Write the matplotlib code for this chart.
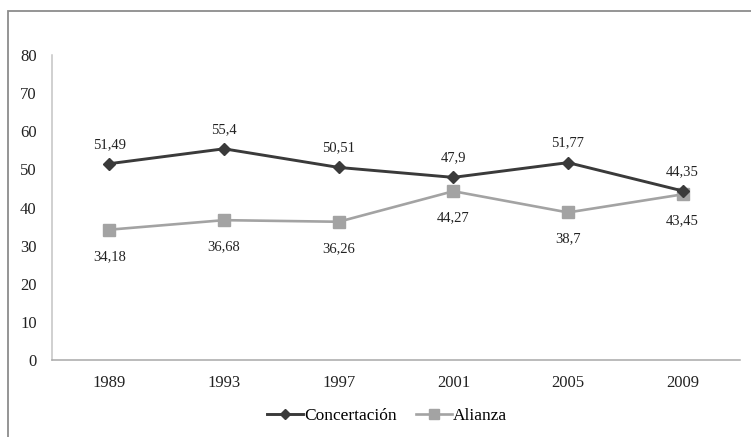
import matplotlib
matplotlib.use("Agg")
import matplotlib.pyplot as plt
from matplotlib.patches import Rectangle
from matplotlib.lines import Line2D

years = ["1989", "1993", "1997", "2001", "2005", "2009"]
concertacion = [51.49, 55.4, 50.51, 47.9, 51.77, 44.35]
alianza = [34.18, 36.68, 36.26, 44.27, 38.7, 43.45]
conc_labels = ["51,49", "55,4", "50,51", "47,9", "51,77", "44,35"]
ali_labels = ["34,18", "36,68", "36,26", "44,27", "38,7", "43,45"]
yticks = [0, 10, 20, 30, 40, 50, 60, 70, 80]

plt.rcParams['font.family'] = ['Liberation Serif', 'DejaVu Serif']

W, H = 751, 437
fig = plt.figure(figsize=(W/100, H/100), dpi=100)
fig.patch.set_facecolor('white')

# outer border
fig.add_artist(Rectangle((8/W, -0.02), 1.0, 1 - 11/H + 0.02, transform=fig.transFigure,
                         fill=False, edgecolor='#8c8c8c', linewidth=1.3))

dark = '#3a3a3a'
light = '#a3a3a3'

ax = fig.add_axes([52/W, 1 - 360/H, 688/W, 305/H])
x = list(range(len(years)))
ax.plot(x, concertacion, color=dark, linewidth=2.1, marker='D', markersize=6.3,
        label='Concertación', zorder=3)
ax.plot(x, alianza, color=light, linewidth=1.9, marker='s', markersize=9,
        label='Alianza', zorder=2)

ax.set_xlim(-0.5, len(years) - 0.5)
ax.set_ylim(0, 80)
ax.set_yticks(yticks)
ax.set_yticklabels([str(v) for v in yticks], fontsize=12)
ax.set_xticks(x)
ax.set_xticklabels(years, fontsize=12)
ax.tick_params(axis='both', length=0, colors='#222222')
ax.tick_params(axis='y', pad=11)
ax.tick_params(axis='x', pad=10.5)
for s in ['top', 'right']:
    ax.spines[s].set_visible(False)
ax.spines['left'].set_color('#c4c4c4')
ax.spines['left'].set_linewidth(1.1)
ax.spines['bottom'].set_color('#a8a8a8')
ax.spines['bottom'].set_linewidth(1.1)

for i, (v, t) in enumerate(zip(concertacion, conc_labels)):
    ax.annotate(t, (i, v), xytext=(0, 11.5), textcoords='offset points',
                ha='center', va='baseline', fontsize=10.5, color='#222222')
for i, (v, t) in enumerate(zip(alianza, ali_labels)):
    ax.annotate(t, (i, v), xytext=(0, -14.5), textcoords='offset points',
                ha='center', va='top', fontsize=10.5, color='#222222')

handles = [Line2D([], [], color=dark, linewidth=2.1, marker='D', markersize=5),
           Line2D([], [], color=light, linewidth=1.9, marker='s', markersize=7)]
leg = fig.legend(handles, ['Concertación', 'Alianza'], loc='center',
                 bbox_to_anchor=(387/W, 1 - 416/H), ncol=2, frameon=False,
                 fontsize=12.5, handlelength=2.1, columnspacing=1.1, handletextpad=0.05,
                 borderpad=0, borderaxespad=0)

fig.savefig('out.png', dpi=100)
